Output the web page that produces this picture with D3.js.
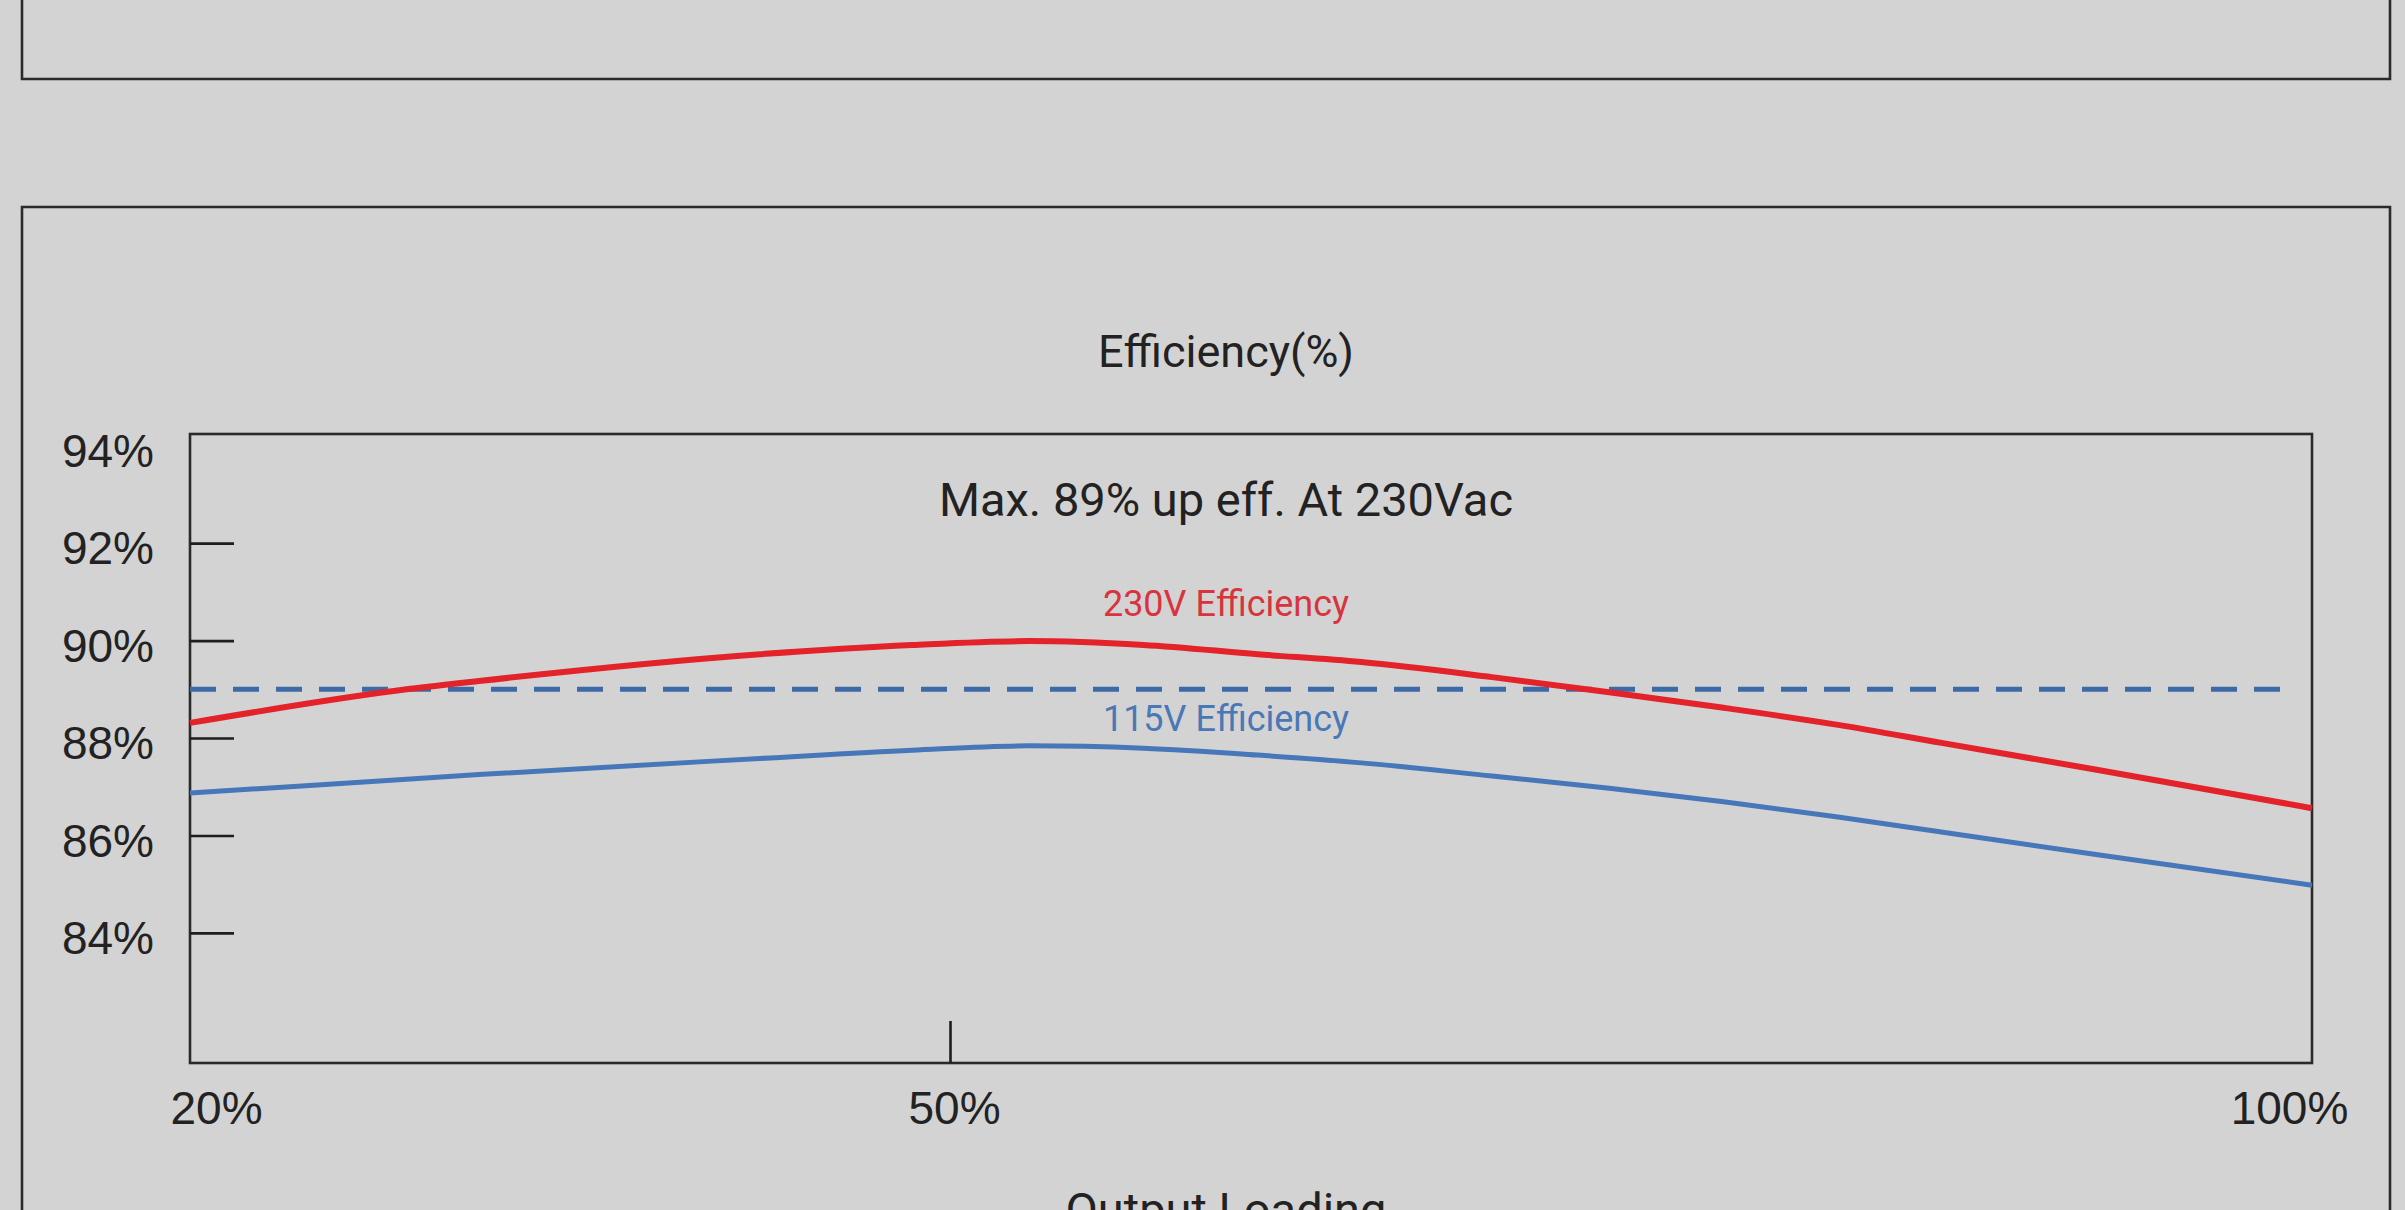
<!DOCTYPE html>
<html>
<head>
<meta charset="utf-8">
<script src="https://cdn.jsdelivr.net/npm/d3@7"></script>
<style>
  html, body { margin: 0; padding: 0; background: #d3d3d3; overflow: hidden; }
  svg { display: block; font-family: Roboto, 'Noto Sans', sans-serif; }
</style>
</head>
<body>
<svg id="chart"></svg>
<script>
// Output loading (%) at which the curves were read
const loads = [20, 28.7, 31.4, 42.5, 48.5, 52.9, 57.1, 61.3, 65.1, 69.9, 74.2, 78.4, 82.6, 86.4, 92.2, 100]
// Efficiency (%) at 230Vac input
const eff230 = [88.31, 89.01, 89.17, 89.72, 89.91, 89.99, 89.91, 89.72, 89.56, 89.25, 88.94, 88.62, 88.27, 87.90, 87.34, 86.56]
// Efficiency (%) at 115Vac input
const eff115 = [86.87, 87.16, 87.25, 87.58, 87.75, 87.84, 87.79, 87.65, 87.49, 87.22, 86.97, 86.69, 86.38, 86.07, 85.60, 84.98]
// Dashed reference level and its load span
const refLevel = 89
const refSpan = [20, 99]
// Tick labels
const xTicks = [20, 50, 100]
const yTicks = [84, 86, 88, 90, 92, 94]

const width = 2405
const height = 1210
const plot = { left: 190, top: 434, right: 2312, bottom: 1063 }

const svg = d3.select('#chart').attr('width', width).attr('height', height)

// Panel frames (top panel bottom edge, lower panel top edge)
svg.append('path')
  .attr('d', `M22,-5V79H2390V-5`)
  .attr('fill', 'none').attr('stroke', '#2a2a2a').attr('stroke-width', 2.6)
svg.append('path')
  .attr('d', `M22,${height + 5}V207H2390V${height + 5}`)
  .attr('fill', 'none').attr('stroke', '#2a2a2a').attr('stroke-width', 2.6)

// Scales: the x axis of the original is not evenly spaced
const x = d3.scaleLinear().domain([20, 50, 100]).range([plot.left, 950, plot.right])
const y = d3.scaleLinear().domain([81.33, 94.24]).range([plot.bottom, plot.top])

// Plot border
svg.append('rect')
  .attr('x', plot.left).attr('y', plot.top)
  .attr('width', plot.right - plot.left).attr('height', plot.bottom - plot.top)
  .attr('fill', 'none').attr('stroke', '#2a2a2a').attr('stroke-width', 2.6)

// Y axis, ticks pointing inward
const yAxis = svg.append('g')
  .attr('transform', `translate(${plot.left},0)`)
  .call(d3.axisLeft(y).tickValues(yTicks).tickSizeInner(-44).tickSizeOuter(0).tickPadding(36).tickFormat(d => d + '%'))
yAxis.select('.domain').remove()
yAxis.selectAll('.tick line').attr('stroke', '#1e1e1e').attr('stroke-width', 2.6)
  .filter(d => d === 94).remove()
yAxis.selectAll('.tick text')
  .attr('font-size', 46).attr('fill', '#222').attr('dy', '0.45em')

// X axis, only the middle tick shows as a mark
const xLabelShift = { 20: 26, 50: 4, 100: -23 }
const xAxis = svg.append('g')
  .attr('transform', `translate(0,${plot.bottom})`)
  .call(d3.axisBottom(x).tickValues(xTicks).tickSizeInner(-42).tickSizeOuter(0).tickPadding(28).tickFormat(d => d + '%'))
xAxis.select('.domain').remove()
xAxis.selectAll('.tick line').attr('stroke', '#1e1e1e').attr('stroke-width', 2.6)
  .filter(d => d !== 50).remove()
xAxis.selectAll('.tick text')
  .attr('font-size', 46).attr('fill', '#222')
  .attr('dx', d => xLabelShift[d])

// Dashed 89% reference line
svg.append('line')
  .attr('x1', x(refSpan[0])).attr('x2', x(refSpan[1]))
  .attr('y1', y(refLevel)).attr('y2', y(refLevel))
  .attr('stroke', '#3d69a6').attr('stroke-width', 5)
  .attr('stroke-dasharray', '26,17')

// Efficiency curves
const line = d3.line()
  .x(d => x(d[0]))
  .y(d => y(d[1]))
  .curve(d3.curveMonotoneX)

svg.append('path')
  .datum(loads.map((l, i) => [l, eff115[i]]))
  .attr('d', line)
  .attr('fill', 'none').attr('stroke', '#4677b9').attr('stroke-width', 5)

svg.append('path')
  .datum(loads.map((l, i) => [l, eff230[i]]))
  .attr('d', line)
  .attr('fill', 'none').attr('stroke', '#e3222a').attr('stroke-width', 6)

// Texts
const cx = 1226
svg.append('text').attr('x', cx).attr('y', 367).attr('text-anchor', 'middle')
  .attr('font-size', 45).attr('fill', '#222').text('Efficiency(%)')
svg.append('text').attr('x', cx).attr('y', 516).attr('text-anchor', 'middle')
  .attr('font-size', 47).attr('fill', '#222').text('Max. 89% up eff. At 230Vac')
svg.append('text').attr('x', cx).attr('y', 616).attr('text-anchor', 'middle')
  .attr('font-size', 36).attr('fill', '#d9333d').text('230V Efficiency')
svg.append('text').attr('x', cx).attr('y', 731).attr('text-anchor', 'middle')
  .attr('font-size', 36).attr('fill', '#4a78b6').text('115V Efficiency')
// Axis title sits partly below the page edge, as in the original
svg.append('text').attr('x', cx).attr('y', 1226).attr('text-anchor', 'middle')
  .attr('font-size', 47).attr('fill', '#222').text('Output Loading')
</script>
</body>
</html>
